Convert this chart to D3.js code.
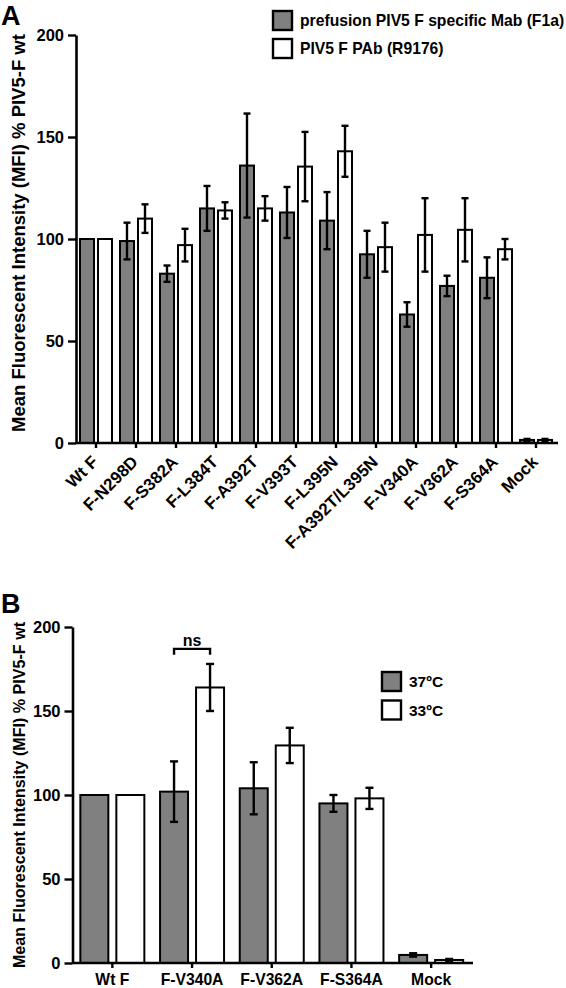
<!DOCTYPE html>
<html><head><meta charset="utf-8">
<script src="https://cdn.jsdelivr.net/npm/d3@7"></script>
<style>
body{margin:0;background:#fff}
text{font-family:"Liberation Sans",Arial,Helvetica,sans-serif;font-weight:bold;fill:#000}
</style>
</head><body>
<svg id="chart" width="566" height="988"></svg>
<script>
// ---------- Panel A data ----------
const catsA = ["Wt F","F-N298D","F-S382A","F-L384T","F-A392T","F-V393T","F-L395N","F-A392T/L395N","F-V340A","F-V362A","F-S364A","Mock"];
const f1aVals   = [100, 99, 83, 115, 136, 113, 109, 92.5, 63, 77, 81, 1.5];
const f1aErr    = [0, 9, 4, 11, 25.5, 12.5, 14, 11.5, 6, 5, 10, 0.5];
const r9176Vals = [100, 110, 97, 114, 115, 135.5, 143, 96, 102, 104.5, 95, 1.5];
const r9176Err  = [0, 7, 8, 4, 6, 17, 12.5, 12, 18, 15.5, 5, 0.5];
const legendA = ["prefusion PIV5 F specific Mab (F1a)", "PIV5 F PAb (R9176)"];

// ---------- Panel B data ----------
const catsB = ["Wt F","F-V340A","F-V362A","F-S364A","Mock"];
const t37Vals = [100, 102, 104, 95, 4.8];
const t37Err  = [0, 18, 15.5, 5, 1];
const t33Vals = [100, 164, 129.5, 98, 1.8];
const t33Err  = [0, 14, 10.5, 6.3, 0.6];
const legendB = ["37ºC", "33ºC"];
const nsLabel = "ns";

const yTicks = [0, 50, 100, 150, 200];
const yTitle = "Mean Fluorescent Intensity (MFI) % PIV5-F wt";
const fills = ["#808080", "#ffffff"];

const svg = d3.select("#chart");

function panel(o) {
  const g = svg.append("g");
  const x = d3.scaleBand().domain(o.cats).range(o.xr);
  const y = d3.scaleLinear().domain([0, 200]).range(o.yr);
  const cx = d => x(d) + x.bandwidth() / 2;

  o.series.forEach((s, si) => {
    const sg = g.append("g");
    sg.selectAll("rect").data(o.cats).join("rect")
      .attr("x", d => cx(d) + s.off - o.bw / 2)
      .attr("y", (d, i) => y(s.vals[i]))
      .attr("width", o.bw)
      .attr("height", (d, i) => y(0) - y(s.vals[i]))
      .attr("fill", fills[si]).attr("stroke", "#000").attr("stroke-width", 2);
    const eg = sg.selectAll("g.err").data(o.cats.map((c, i) => ({c, v: s.vals[i], e: s.err[i]})).filter(d => d.e > 0))
      .join("g").attr("class", "err").attr("stroke", "#000").attr("stroke-width", 2.4);
    eg.append("line").attr("x1", d => cx(d.c) + s.off).attr("x2", d => cx(d.c) + s.off)
      .attr("y1", d => y(d.v - d.e)).attr("y2", d => y(d.v + d.e));
    eg.append("line").attr("x1", d => cx(d.c) + s.off - o.cap).attr("x2", d => cx(d.c) + s.off + o.cap)
      .attr("y1", d => y(d.v + d.e)).attr("y2", d => y(d.v + d.e));
    eg.append("line").attr("x1", d => cx(d.c) + s.off - o.cap).attr("x2", d => cx(d.c) + s.off + o.cap)
      .attr("y1", d => y(d.v - d.e)).attr("y2", d => y(d.v - d.e));
  });

  // y axis
  const ya = g.append("g").attr("transform", `translate(${o.xr[0]},0)`)
    .call(d3.axisLeft(y).tickValues(yTicks).tickSize(8).tickPadding(4).tickSizeOuter(0));
  ya.selectAll("text").style("font-size", o.tickFont + "px");
  // x axis
  const xa = g.append("g").attr("transform", `translate(0,${o.yr[0]})`)
    .call(d3.axisBottom(x).tickSize(5).tickSizeOuter(0));
  xa.select(".domain").attr("d", `M${o.xr[0]},0H${o.xr[1] + 2}`);
  [ya, xa].forEach(a => {
    a.select(".domain").attr("stroke-width", 2.6).attr("stroke", "#000");
    a.selectAll(".tick line").attr("stroke-width", 2.4).attr("stroke", "#000");
  });
  xa.selectAll("text").style("font-size", o.xFont + "px");
  if (o.rotate) {
    xa.selectAll(".tick text").attr("text-anchor", "end")
      .attr("transform", "translate(3,20) rotate(-45)").attr("x", 0).attr("y", 0).attr("dy", 0);
  } else {
    xa.selectAll(".tick text").attr("y", o.xLabelY).attr("dy", 0);
  }

  // y title
  g.append("text").attr("transform", `translate(${o.titleX},${(o.yr[0] + o.yr[1]) / 2 - o.titleShift}) rotate(-90)`)
    .attr("text-anchor", "middle").style("font-size", o.titleFont + "px").text(yTitle);

  // legend
  const lg = g.append("g");
  o.legend.forEach((t, i) => {
    lg.append("rect").attr("x", o.lx).attr("y", o.ly + i * o.lstep).attr("width", o.ls).attr("height", o.ls)
      .attr("fill", fills[i]).attr("stroke", "#000").attr("stroke-width", 2.4);
    lg.append("text").attr("x", o.lx + o.ls + 8).attr("y", o.ly + i * o.lstep + o.ls - 4)
      .style("font-size", o.lFont + "px").text(t);
  });

  // panel letter
  g.append("text").attr("x", 1).attr("y", o.letterY).style("font-size", "27px").text(o.letter);
  return {x, y, cx, g};
}

panel({
  letter: "A", letterY: 25,
  cats: catsA, xr: [76, 556], yr: [443, 35], bw: 14, cap: 3.5,
  series: [{vals: f1aVals, err: f1aErr, off: -9}, {vals: r9176Vals, err: r9176Err, off: 9}],
  tickFont: 16.5, xFont: 17, rotate: true,
  titleX: 25, titleFont: 18.5, titleShift: 6,
  legend: legendA, lx: 273, ly: 11, lstep: 28, ls: 19, lFont: 15.7
});

const pB = panel({
  letter: "B", letterY: 613,
  cats: catsB, xr: [72.5, 471], yr: [963, 627], bw: 28, cap: 4,
  series: [{vals: t37Vals, err: t37Err, off: -18}, {vals: t33Vals, err: t33Err, off: 18}],
  tickFont: 16.5, xFont: 15.7, rotate: false, xLabelY: 22,
  titleX: 25, titleFont: 16.1, titleShift: 0,
  legend: legendB, lx: 382, ly: 672, lstep: 28.5, ls: 19, lFont: 15.5
});

// significance bracket (V340A 37ºC vs 33ºC)
const bx1 = pB.cx("F-V340A") - 18, bx2 = pB.cx("F-V340A") + 18, by = pB.y(187);
pB.g.append("path").attr("d", `M${bx1},${by + 6}V${by}H${bx2}V${by + 6}`)
  .attr("fill", "none").attr("stroke", "#000").attr("stroke-width", 2.4);
pB.g.append("text").attr("x", (bx1 + bx2) / 2).attr("y", by - 3).attr("text-anchor", "middle")
  .style("font-size", "16px").text(nsLabel);
</script>
</body></html>
